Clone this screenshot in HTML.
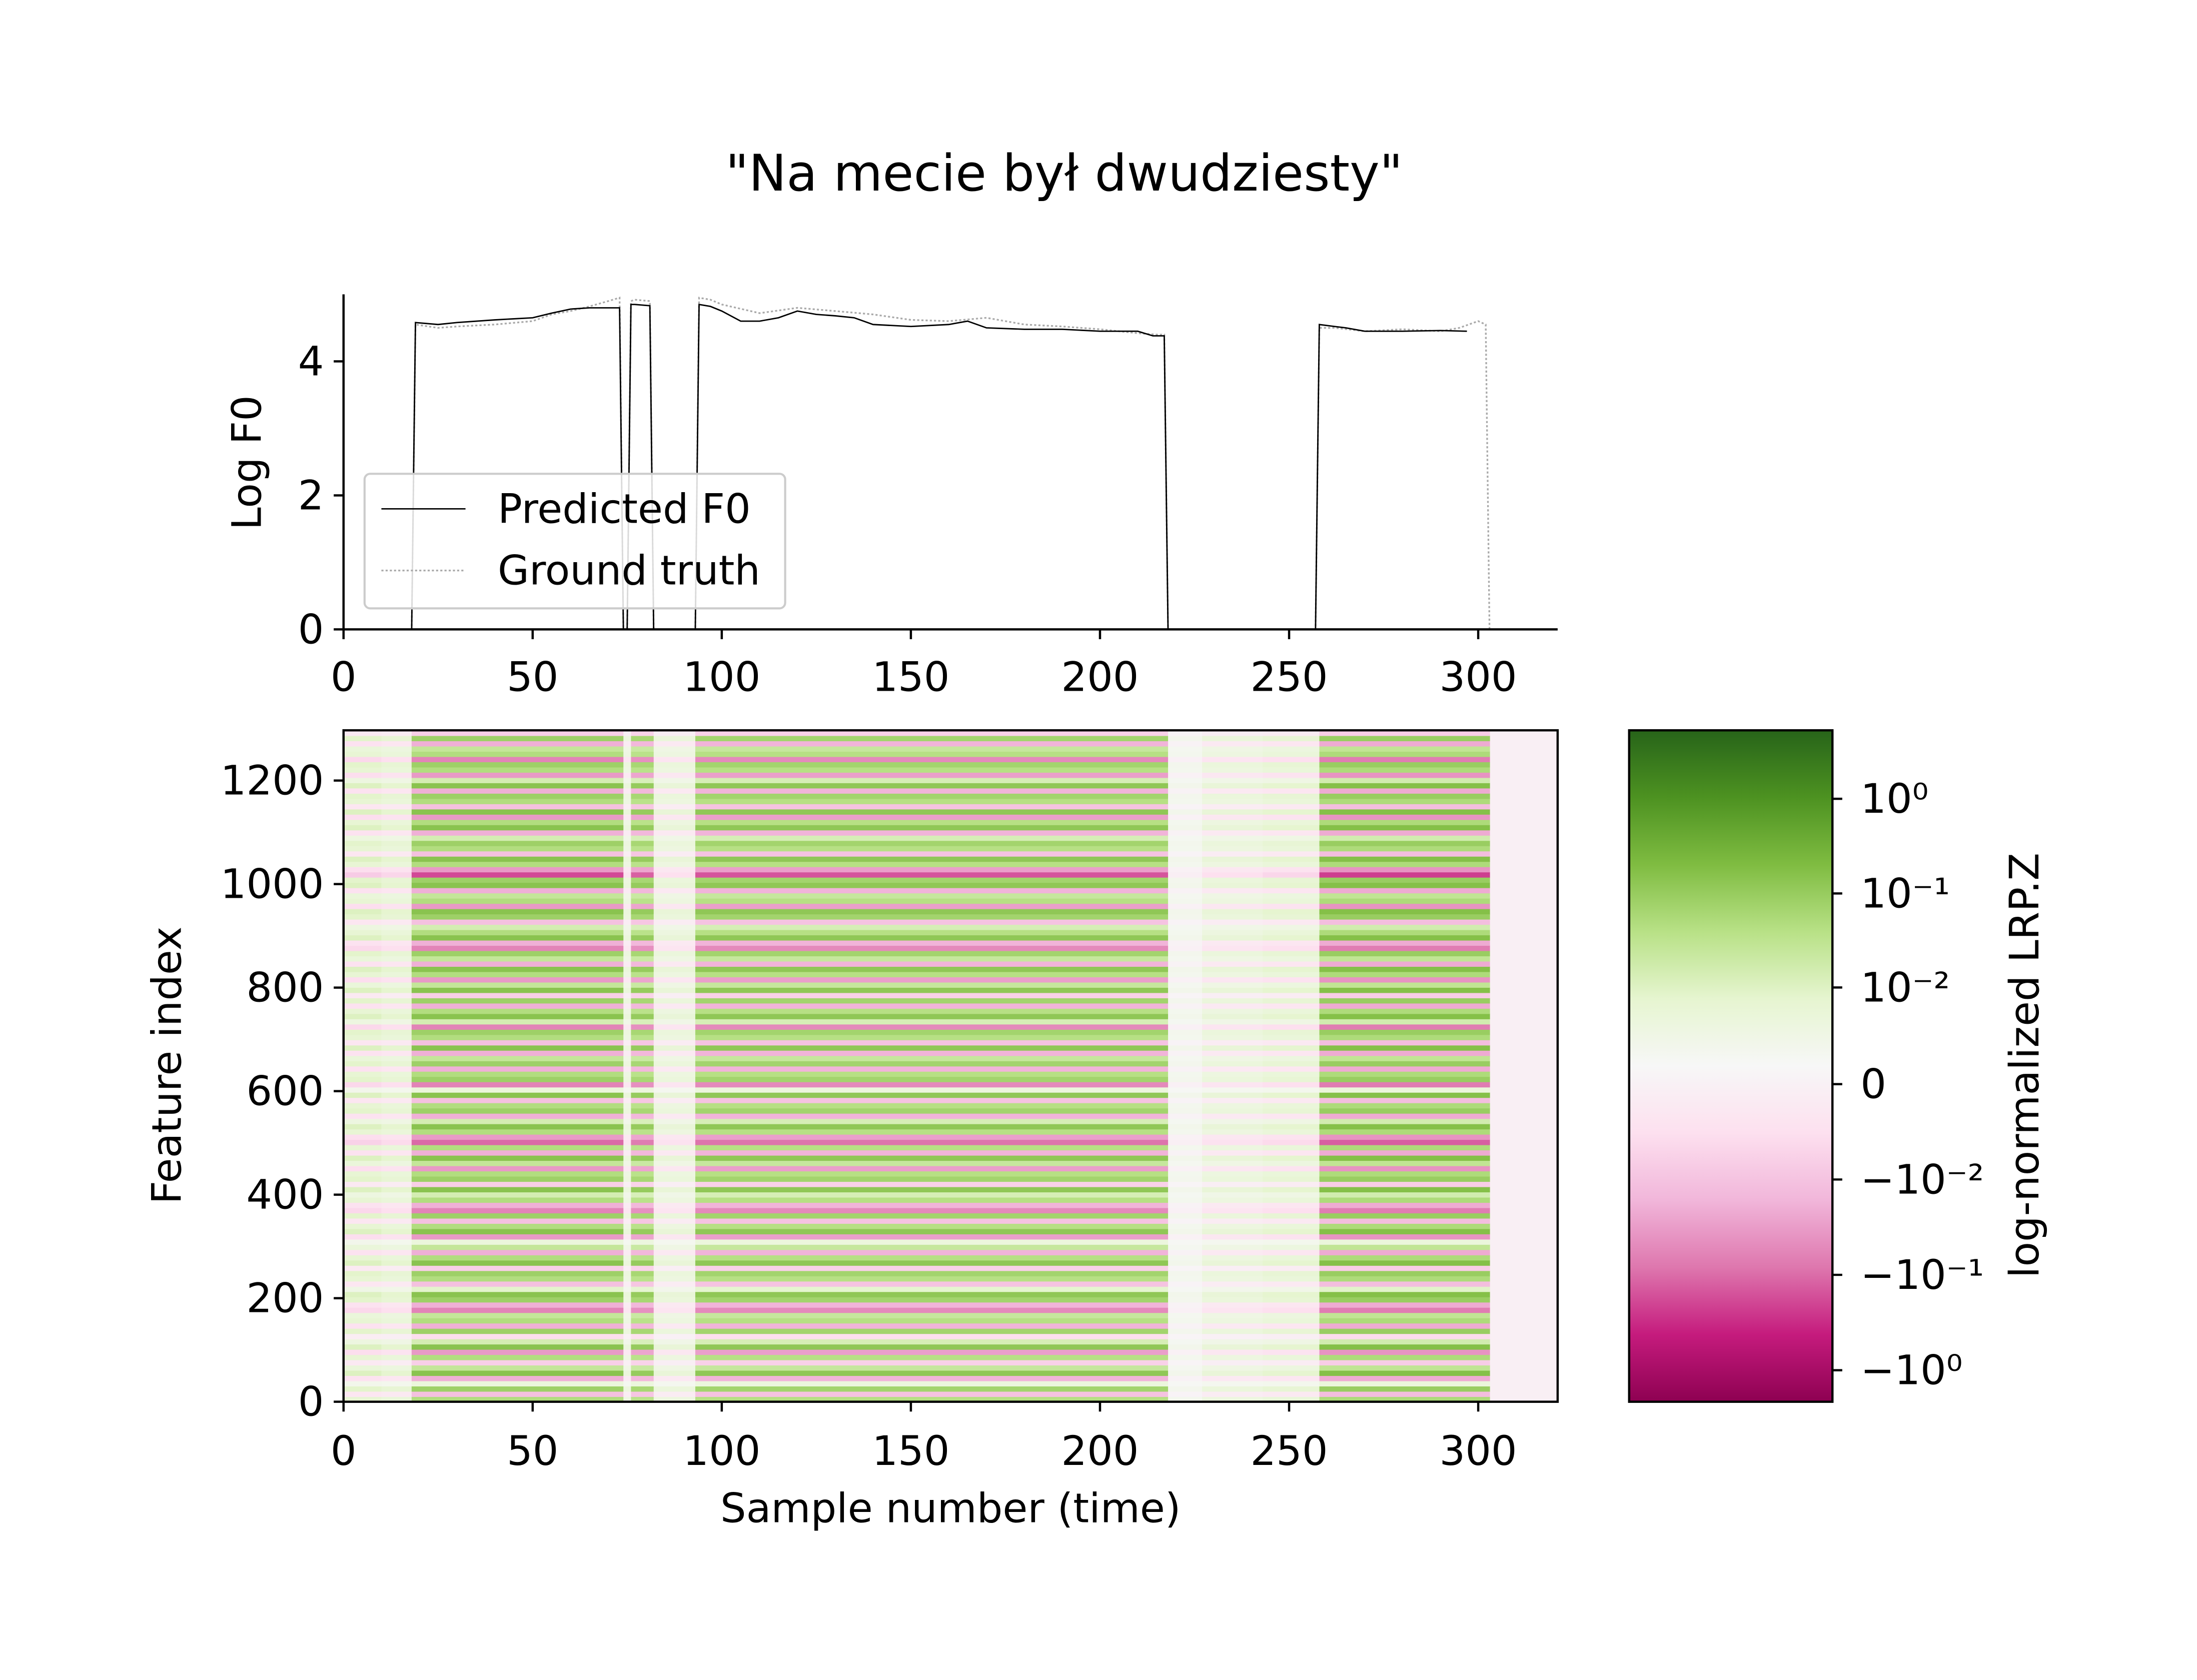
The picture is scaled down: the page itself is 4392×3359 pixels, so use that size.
<!DOCTYPE html>
<html><head><meta charset="utf-8"><style>
html,body{margin:0;padding:0;background:#fff}
svg{display:block}
text{font-family:"DejaVu Sans","Liberation Sans",sans-serif;fill:#000}
</style></head><body>
<svg id="fig" xmlns="http://www.w3.org/2000/svg" width="4392" height="3359" viewBox="0 0 1567 1198.5">
<defs>
<linearGradient id="piyg" x1="0" y1="1" x2="0" y2="0">
<stop offset="0" stop-color="#8e0152"/><stop offset="0.1" stop-color="#c51b7d"/><stop offset="0.2" stop-color="#de77ae"/><stop offset="0.3" stop-color="#f1b6da"/><stop offset="0.4" stop-color="#fde0ef"/><stop offset="0.5" stop-color="#f7f7f7"/><stop offset="0.6" stop-color="#e6f5d0"/><stop offset="0.7" stop-color="#b8e186"/><stop offset="0.8" stop-color="#7fbc41"/><stop offset="0.9" stop-color="#4d9221"/><stop offset="1" stop-color="#276419"/>
</linearGradient>
</defs>
<text x="759" y="136" font-size="36" text-anchor="middle">"Na mecie był dwudziesty"</text>
<g id="topAx"></g>
<g id="heat"></g>
<g id="cbar"></g>
</svg>
<script>
// ---- data ----
const predX=[0,18,19,25,30,40,50,55,60,65,73,74,75,76,77,81,82,93,94,97,100,105,110,115,120,125,130,135,140,150,160,165,170,180,190,200,210,214,217,218,257,258,262,265,270,280,290,297];
const predY=[0,0,4.58,4.55,4.58,4.62,4.65,4.72,4.78,4.8,4.8,0,0,4.85,4.85,4.83,0,0,4.85,4.82,4.75,4.6,4.6,4.65,4.75,4.7,4.68,4.65,4.55,4.52,4.55,4.6,4.5,4.48,4.48,4.45,4.45,4.38,4.38,0,0,4.55,4.52,4.5,4.45,4.45,4.46,4.45];
const gtX=[0,18,19,25,30,40,50,55,60,65,70,73,74,75,76,77,81,82,93,94,97,100,110,120,130,140,150,160,170,180,190,200,210,215,217,218,257,258,262,270,280,290,295,300,302,303];
const gtY=[0,0,4.55,4.5,4.52,4.55,4.6,4.7,4.75,4.82,4.9,4.95,0,0,4.9,4.92,4.9,0,0,4.95,4.92,4.85,4.72,4.8,4.75,4.7,4.62,4.6,4.65,4.55,4.52,4.48,4.42,4.4,4.4,0,0,4.5,4.5,4.45,4.48,4.45,4.5,4.6,4.55,0];
const xTicks=[0,50,100,150,200,250,300];
const f0Ticks=[0,2,4];
const featTicks=[0,200,400,600,800,1000,1200];
const segStart=[0,10,18,74,76,82,93,218,227,243,258];
const segEnd=[10,18,74,76,82,93,218,227,243,258,303];
const segAmp=[0.6,0.5,1.4,0.35,1.3,0.4,1.35,0.15,0.4,0.5,1.45];
const bandVals=[0.3,-0.25,0.35,0.1,-0.3,0.4,0.25,-0.2,0.3,-0.35,0.4,0.2,-0.15,0.35,-0.3,0.3,
0.25,-0.4,-0.3,0.35,0.4,0.15,-0.25,0.3,0.35,-0.2,0.4,0.3,-0.3,0.25,0.1,-0.35,
0.4,0.3,-0.25,0.35,-0.4,-0.3,0.3,0.2,0.4,-0.2,0.35,0.3,-0.35,0.25,0.4,-0.3,
0.3,-0.45,-0.35,0.3,0.4,0.2,-0.3,0.35,0.3,-0.25,0.4,0.1,-0.4,0.35,0.3,-0.3,
0.35,0.25,-0.3,0.4,-0.25,0.3,0.35,-0.4,0.2,0.4,0.3,-0.3,0.35,-0.2,0.4,0.25,
-0.35,0.3,0.4,-0.3,0.25,0.35,-0.4,-0.3,0.4,0.3,0.2,-0.25,0.35,0.4,-0.35,0.3,
0.25,-0.3,0.4,0.35,-0.5,-0.35,0.3,0.4,-0.25,0.3,0.35,0.2,-0.3,0.4,0.3,-0.35,
0.4,-0.25,0.3,0.35,-0.3,0.4,0.2,-0.35,0.3,0.35,-0.4,0.3,0.25,-0.3,0.35,-0.2];
const cbLabels=["10⁰","10⁻¹","10⁻²","0","−10⁻²","−10⁻¹","−10⁰"];
const cbTickPos=[0.898,0.757,0.617,0.473,0.331,0.189,0.047];
// ---- helpers ----
const NS="http://www.w3.org/2000/svg";
function mk(p,t,a){const e=document.createElementNS(NS,t);for(const k in a)e.setAttribute(k,a[k]);p.appendChild(e);return e;}
const AX0=245,AX1=1111,XMAX=321;
const sx=v=>AX0+(AX1-AX0)*v/XMAX;
const T_TOP=210,T_BOT=449,sy1=v=>T_BOT-(T_BOT-T_TOP)*v/5;
const H_TOP=521,H_BOT=1000,YMAX=1297,sy2=v=>H_BOT-(H_BOT-H_TOP)*v/YMAX;
const cmap=[[142,1,82],[197,27,125],[222,119,174],[241,182,218],[253,224,239],[247,247,247],[230,245,208],[184,225,134],[127,188,65],[77,146,33],[39,100,25]];
function col(v){let t=(v+1)/2*10;t=Math.max(0,Math.min(10,t));const i=Math.min(9,Math.floor(t)),f=t-i;const a=cmap[i],b=cmap[i+1];return `rgb(${[0,1,2].map(k=>Math.round(a[k]+(b[k]-a[k])*f)).join(',')})`;}
const FS=29;
// ---- top axes ----
const topG=document.getElementById('topAx');
let d=predX.map((x,i)=>(i?'L':'M')+sx(x).toFixed(1)+' '+sy1(predY[i]).toFixed(1)).join('');
let g=gtX.map((x,i)=>(i?'L':'M')+sx(x).toFixed(1)+' '+sy1(gtY[i]).toFixed(1)).join('');
let e=mk(topG,'path',{d:g,fill:'none',stroke:'#aaa','stroke-width':1.2,'stroke-dasharray':'1.5 1.5'});


e=mk(topG,'path',{d:d,fill:'none',stroke:'#000','stroke-width':1});


mk(topG,'line',{x1:AX0,y1:T_TOP,x2:AX0,y2:T_BOT,stroke:'#000','stroke-width':1.6});
mk(topG,'line',{x1:AX0,y1:T_BOT,x2:AX1,y2:T_BOT,stroke:'#000','stroke-width':1.6});
xTicks.forEach(v=>{mk(topG,'line',{x1:sx(v),y1:T_BOT,x2:sx(v),y2:T_BOT+7,stroke:'#000','stroke-width':1.6});
 const t=mk(topG,'text',{x:sx(v),y:T_BOT+44,'font-size':FS,'text-anchor':'middle'});t.textContent=v;
 
 });
f0Ticks.forEach(v=>{mk(topG,'line',{x1:AX0-7,y1:sy1(v),x2:AX0,y2:sy1(v),stroke:'#000','stroke-width':1.6});
 const t=mk(topG,'text',{x:AX0-14,y:sy1(v)+10,'font-size':FS,'text-anchor':'end'});t.textContent=v;
 
 });
e=mk(topG,'text',{x:0,y:0,'font-size':FS,'text-anchor':'middle',transform:'translate(186,330) rotate(-90)'});e.textContent='Log F0';


const lg=mk(topG,'g',{});


mk(lg,'rect',{x:260,y:338,width:300,height:96,rx:4,fill:'#fff','fill-opacity':0.85,stroke:'#ccc','stroke-width':1.5});
mk(lg,'line',{x1:272,y1:363,x2:332,y2:363,stroke:'#000','stroke-width':1});
mk(lg,'line',{x1:272,y1:407,x2:332,y2:407,stroke:'#aaa','stroke-width':1.2,'stroke-dasharray':'1.5 1.5'});
e=mk(lg,'text',{x:355,y:373,'font-size':FS});e.textContent='Predicted F0';


e=mk(lg,'text',{x:355,y:417,'font-size':FS});e.textContent='Ground truth';


// ---- heatmap ----
const heat=document.getElementById('heat');
const bh=YMAX/bandVals.length;
mk(heat,'rect',{x:sx(303),y:H_TOP,width:sx(XMAX)-sx(303),height:H_BOT-H_TOP,fill:'#f9eff4'});
segStart.forEach((s,si)=>{bandVals.forEach((bv,bi)=>{
 const r=mk(heat,'rect',{x:sx(s).toFixed(2),y:sy2((bi+1)*bh).toFixed(2),width:(sx(segEnd[si])-sx(s)+0.3).toFixed(2),height:((H_BOT-H_TOP)/bandVals.length+0.3).toFixed(2),fill:col(bv*segAmp[si])});
 
 });});
mk(heat,'rect',{x:AX0,y:H_TOP,width:AX1-AX0,height:H_BOT-H_TOP,fill:'none',stroke:'#000','stroke-width':1.6});
xTicks.forEach(v=>{mk(heat,'line',{x1:sx(v),y1:H_BOT,x2:sx(v),y2:H_BOT+7,stroke:'#000','stroke-width':1.6});
 const t=mk(heat,'text',{x:sx(v),y:H_BOT+45,'font-size':FS,'text-anchor':'middle'});t.textContent=v;
 
 });
featTicks.forEach(v=>{mk(heat,'line',{x1:AX0-7,y1:sy2(v),x2:AX0,y2:sy2(v),stroke:'#000','stroke-width':1.6});
 const t=mk(heat,'text',{x:AX0-14,y:sy2(v)+10,'font-size':FS,'text-anchor':'end'});t.textContent=v;
 
 });
e=mk(heat,'text',{x:678,y:1086,'font-size':FS,'text-anchor':'middle'});e.textContent='Sample number (time)';


e=mk(heat,'text',{x:0,y:0,'font-size':FS,'text-anchor':'middle',transform:'translate(129,760) rotate(-90)'});e.textContent='Feature index';


// ---- colorbar ----
const cb=document.getElementById('cbar');
const CX0=1162,CX1=1307;
mk(cb,'rect',{x:CX0,y:H_TOP,width:CX1-CX0,height:H_BOT-H_TOP,fill:'url(#piyg)',stroke:'#000','stroke-width':1.6});
cbLabels.forEach((l,i)=>{const y=H_BOT-(H_BOT-H_TOP)*cbTickPos[i];
 mk(cb,'line',{x1:CX1,y1:y,x2:CX1+7,y2:y,stroke:'#000','stroke-width':1.6});
 const t=mk(cb,'text',{x:CX1+20,y:y+10,'font-size':FS});t.textContent=l;
 
 });
e=mk(cb,'text',{x:0,y:0,'font-size':FS,'text-anchor':'middle',transform:'translate(1454,760) rotate(-90)'});e.textContent='log-normalized LRP.Z';


</script>
</body></html>
